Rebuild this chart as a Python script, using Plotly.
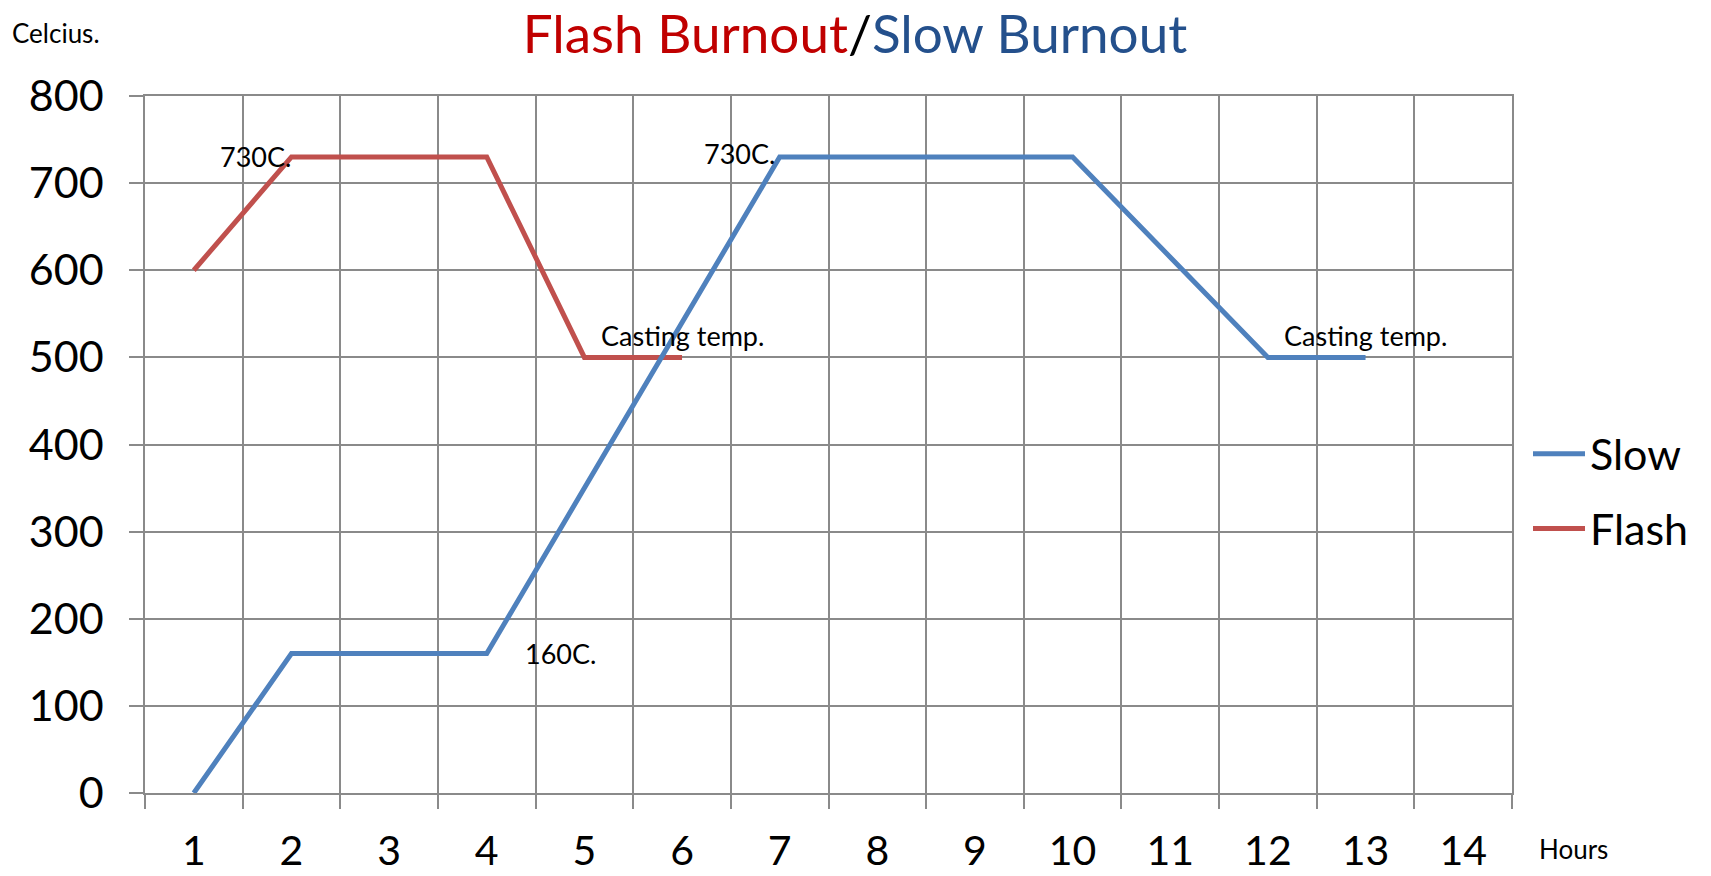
import plotly.graph_objects as go

hours = [str(h) for h in range(1, 15)]
slow = [0, 160, 160, 160, 350, 540, 730, 730, 730, 730, 615, 500, 500]
flash = [600, 730, 730, 730, 500, 500]
y_ticks = [0, 100, 200, 300, 400, 500, 600, 700, 800]

FONT = "Lato"
GRID = "#8a8a8a"

fig = go.Figure()
fig.add_trace(go.Scatter(x=hours[:len(flash)], y=flash, mode="lines", name="Flash",
                         line=dict(color="#C0504D", width=5), legendrank=2,
                         legendgroup="f"))
fig.add_trace(go.Scatter(x=hours[:len(slow)], y=slow, mode="lines", name="Slow",
                         line=dict(color="#4F81BD", width=5), legendrank=1,
                         legendgroup="s"))

ann_font = dict(family=FONT, size=27, color="black")


def idx(h):
    return hours.index(h)


annotations = [
    dict(x=idx("2"), y=730, text="730C.", xanchor="right", yanchor="middle", xshift=2, showarrow=False),
    dict(x=idx("7"), y=730, text="730C.", xanchor="right", yanchor="middle", xshift=-3, yshift=3, showarrow=False),
    dict(x=idx("4"), y=160, text="160C.", xanchor="left", yanchor="middle", xshift=36, showarrow=False),
    dict(x=idx("6"), y=500, text="Casting temp.", xanchor="center", yanchor="middle", yshift=22, showarrow=False),
    dict(x=idx("13"), y=500, text="Casting temp.", xanchor="center", yanchor="middle", yshift=22, showarrow=False),
]
for a in annotations:
    a["font"] = ann_font
    a["xref"] = "x"
    a["yref"] = "y"

annotations.append(dict(xref="x domain", yref="y domain", x=(10 - 145) / 1367,
                        y=(793 - 33) / 697, text="Celcius.", xanchor="left",
                        yanchor="middle", showarrow=False,
                        font=dict(family=FONT, size=26, color="black")))
annotations.append(dict(xref="x domain", yref="y domain", x=(1537 - 145) / 1367,
                        y=(793 - 849) / 697, text="Hours", xanchor="left",
                        yanchor="middle", showarrow=False,
                        font=dict(family=FONT, size=26, color="black")))

fig.update_layout(
    width=1711, height=876,
    margin=dict(l=145, r=199, t=96, b=83, autoexpand=False),
    paper_bgcolor="white", plot_bgcolor="white",
    title=dict(
        text="<span style='color:#C00000'>Flash Burnout</span>"
             "<span style='color:black'>/</span>"
             "<span style='color:#24508C'>Slow Burnout</span>",
        x=855 / 1711, xanchor="center", xref="container",
        y=1 - 34 / 876, yanchor="middle", yref="container",
        font=dict(family=FONT, size=53),
    ),
    xaxis=dict(type="category", categoryorder="array", categoryarray=hours,
               range=[-0.5, 13.5], tickson="boundaries", showgrid=True,
               gridcolor=GRID, gridwidth=1.5, ticks="outside", ticklen=14,
               tickcolor=GRID, tickwidth=1.5, showline=True, mirror=True,
               linecolor=GRID, linewidth=1.5, automargin=False,
               tickfont=dict(family=FONT, size=41, color="black"),
               ticklabelstandoff=21, zeroline=False),
    yaxis=dict(range=[0, 800], tickvals=y_ticks, showgrid=True, gridcolor=GRID,
               gridwidth=1.5, ticks="outside", ticklen=14, tickcolor=GRID,
               tickwidth=1.5, showline=True, mirror=True, linecolor=GRID,
               linewidth=1.5, zeroline=False, automargin=False,
               tickfont=dict(family=FONT, size=43, color="black"),
               ticklabelstandoff=17),
    legend=dict(x=(1528 - 145) / 1367, y=0.433, xanchor="left", yanchor="middle",
                xref="paper", yref="paper", traceorder="grouped", tracegroupgap=16,
                font=dict(family=FONT, size=43, color="black"),
                bgcolor="rgba(0,0,0,0)", itemwidth=52),
    annotations=annotations,
    showlegend=True,
)

fig.write_html("out.html", config={"displayModeBar": False},
               post_script="document.body.style.margin='0';")
